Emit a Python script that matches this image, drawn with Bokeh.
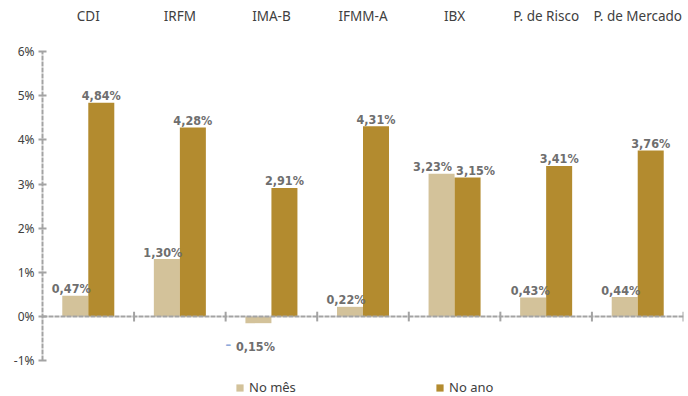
from bokeh.plotting import figure
from bokeh.models import (Range1d, LinearAxis, FixedTicker, PrintfTickFormatter,
                          ColumnDataSource, Legend, LegendItem)
from bokeh.core.properties import value
from bokeh.embed import file_html
from bokeh.resources import INLINE

categories = ["CDI", "IRFM", "IMA-B", "IFMM-A", "IBX", "P. de Risco", "P. de Mercado"]
no_mes = [0.47, 1.30, -0.15, 0.22, 3.23, 0.43, 0.44]
no_ano = [4.84, 4.28, 2.91, 4.31, 3.15, 3.41, 3.76]
y_ticks = [-1, 0, 1, 2, 3, 4, 5, 6]

LIGHT = "#D3C29A"
DARK = "#B38B2F"
AXIS = "#A3A3A3"
LABEL = "#6E6E6E"
TEXT = "#404040"
LABEL_FONT = "'DejaVu Sans Condensed', 'Liberation Sans', sans-serif"
CAT_FONT = "Noto Sans"

# label nudges (pixels) to avoid overlaps, as in the original
mes_nudge = [-4, -4, -4, -4, -9, -3, -4]
ano_nudge = [0, 0, 0, 0, 8, 0, 0]

n = len(categories)
half = 0.142
bw = 0.284

def fmt(v):
    return ("%.2f" % abs(v)).replace(".", ",") + "%"

centers = [i + 0.5 for i in range(n)]

p = figure(width=688, height=396, output_backend="svg", toolbar_location=None,
           x_range=Range1d(0, n), y_range=Range1d(-1.81, 6.0),
           x_axis_location=None, y_axis_location=None,
           min_border_left=42, min_border_right=5, min_border_top=51, min_border_bottom=0)
p.outline_line_color = None
p.xgrid.visible = False
p.ygrid.visible = False
p.background_fill_color = "white"
p.border_fill_color = "white"

# y axis
yax = LinearAxis(ticker=FixedTicker(ticks=y_ticks), bounds=(min(y_ticks), max(y_ticks)),
                 formatter=PrintfTickFormatter(format="%d%%"))
yax.axis_line_color = AXIS
yax.axis_line_width = 2
yax.axis_line_dash = "5 1"
yax.major_tick_line_color = AXIS
yax.major_tick_line_width = 2
yax.major_tick_in = 4
yax.major_tick_out = 4
yax.minor_tick_line_color = None
yax.major_label_text_font = CAT_FONT
yax.major_label_text_font_size = "12px"
yax.major_label_text_color = TEXT
yax.major_label_standoff = 4
p.add_layout(yax, "left")

# top category axis
tax = LinearAxis(ticker=FixedTicker(ticks=centers),
                 major_label_overrides={c: lab for c, lab in zip(centers, categories)})
tax.axis_line_color = None
tax.major_tick_line_color = None
tax.minor_tick_line_color = None
tax.major_label_text_font = CAT_FONT
tax.major_label_text_font_size = "13.5px"
tax.major_label_text_color = TEXT
tax.major_label_standoff = 21
p.add_layout(tax, "above")

# bars
src = ColumnDataSource(dict(
    xm=[c - half for c in centers], xa=[c + half for c in centers],
    mes=no_mes, ano=no_ano,
))
r_mes = p.vbar(x="xm", top="mes", bottom=0, width=bw, source=src, fill_color=LIGHT, line_color=None)
r_ano = p.vbar(x="xa", top="ano", bottom=0, width=bw, source=src, fill_color=DARK, line_color=None)

# zero line with category-boundary ticks
p.segment(x0=[0], y0=[0], x1=[n], y1=[0], line_color=AXIS, line_width=2, line_dash="5 1")
p.segment(x0=list(range(1, n + 1)), y0=[-0.11] * n, x1=list(range(1, n + 1)), y1=[0.11] * n,
          line_color=AXIS, line_width=2)

# value labels
lab_kw = dict(text_align="center", text_baseline="alphabetic", text_font=value(LABEL_FONT),
              text_font_style="bold", text_font_size="12.5px", text_color=LABEL)
pos_m = [i for i, v in enumerate(no_mes) if v >= 0]
neg_m = [i for i, v in enumerate(no_mes) if v < 0]
p.text(x=[centers[i] - half for i in pos_m], y=[no_mes[i] for i in pos_m],
       text=[fmt(no_mes[i]) for i in pos_m], x_offset=[mes_nudge[i] for i in pos_m], y_offset=-7,
       **lab_kw)
p.text(x=[c + half for c in centers], y=no_ano,
       text=[fmt(v) for v in no_ano], x_offset=ano_nudge, y_offset=-7, **lab_kw)
# negative labels: blue dash + gray value, below the axis
p.text(x=[centers[i] - half for i in neg_m], y=[0] * len(neg_m),
       text=[fmt(no_mes[i]) for i in neg_m], x_offset=-3, y_offset=30, **lab_kw)
dash_kw = dict(lab_kw)
dash_kw["text_color"] = "#8EA9DB"
p.text(x=[centers[i] - half for i in neg_m], y=[0] * len(neg_m),
       text=["–"] * len(neg_m), x_offset=-30, y_offset=28, **dash_kw)

legend = Legend(items=[LegendItem(label="No mês", renderers=[r_mes]),
                       LegendItem(label="No ano", renderers=[r_ano])],
                orientation="horizontal", location=(193, 0))
legend.glyph_width = 9
legend.glyph_height = 9
legend.label_standoff = 5
legend.label_width = 186
legend.spacing = 0
legend.padding = 0
legend.margin = 0
legend.border_line_color = None
legend.background_fill_alpha = 0
legend.label_text_font = CAT_FONT
legend.label_text_font_size = "13px"
legend.label_text_color = TEXT
p.add_layout(legend, "center")

open("out.html", "w").write(file_html(p, INLINE))
